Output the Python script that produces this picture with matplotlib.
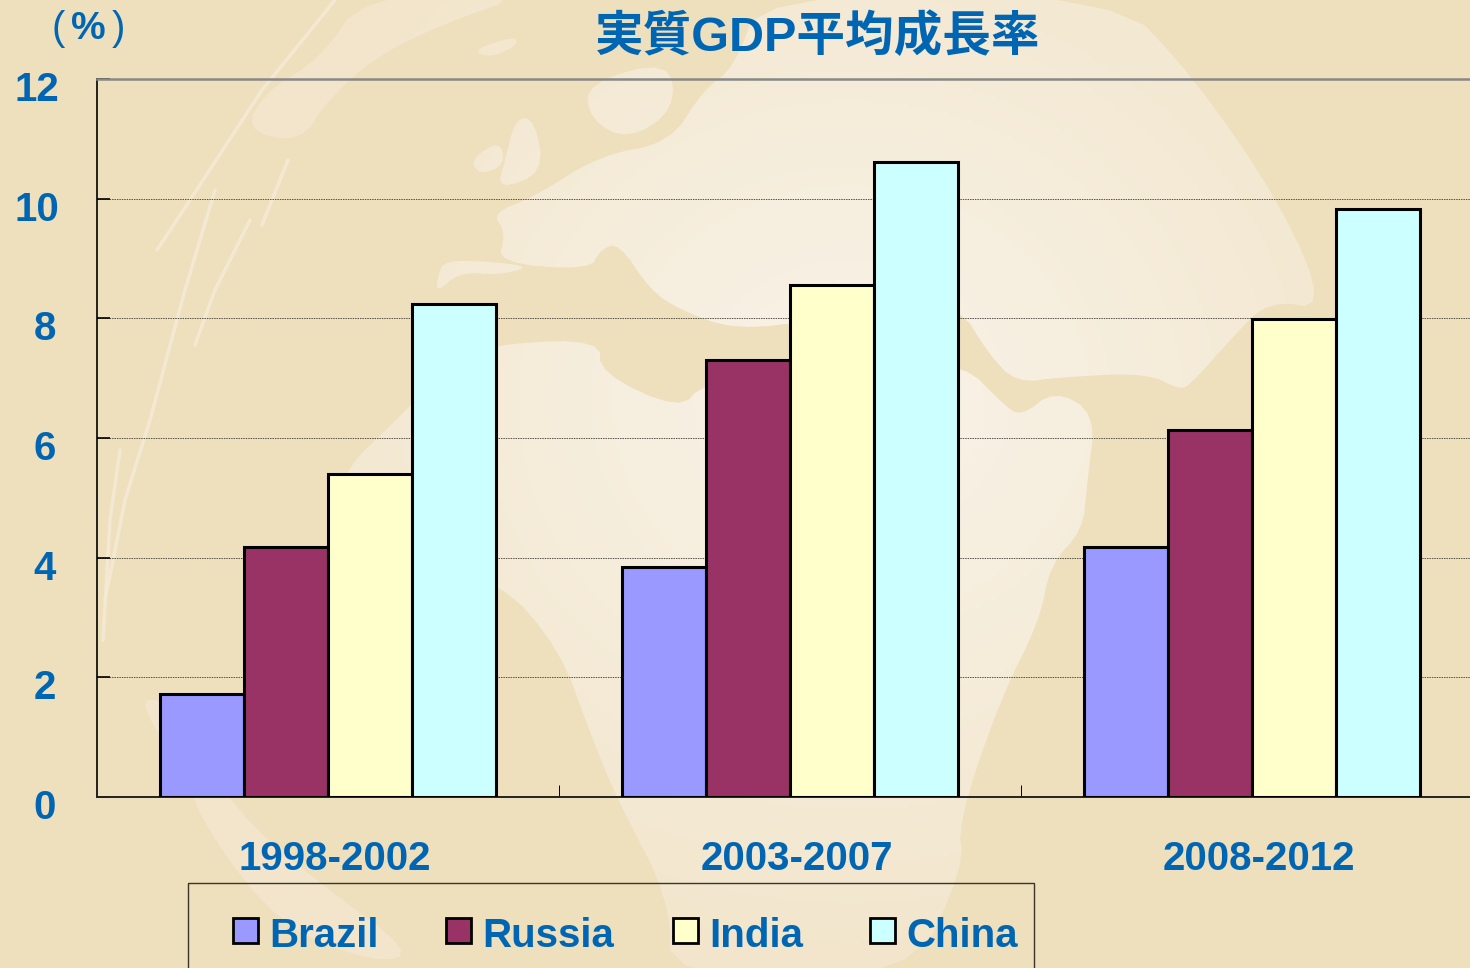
import numpy as np
import matplotlib
matplotlib.use("Agg")
import matplotlib.pyplot as plt
from matplotlib.path import Path
from matplotlib.patches import Rectangle, PathPatch
from matplotlib.transforms import ScaledTranslation

periods = ["1998-2002", "2003-2007", "2008-2012"]
series_names = ["Brazil", "Russia", "India", "China"]
brazil = [1.72, 3.84, 4.18]
russia = [4.18, 7.30, 6.13]
india = [5.40, 8.56, 7.99]
china = [8.24, 10.61, 9.83]
y_ticks = [0, 2, 4, 6, 8, 10, 12]
title = "実質GDP平均成長率"

BLUE = "#0066B3"
BG = "#EEDFBD"
colors = ["#9999FF", "#993366", "#FFFFCC", "#CCFFFF"]
W, H = 1470, 968
LATIN = ["Liberation Sans", "Noto Sans CJK JP"]

fig = plt.figure(figsize=(W / 100, H / 100), dpi=100, facecolor=BG)


def soften(poly, rounds=2):
    """Round the corners of a decorative outline."""
    pts = np.asarray(poly, float)
    for _ in range(rounds):
        nxt = np.roll(pts, -1, axis=0)
        pts = np.column_stack([0.75 * pts + 0.25 * nxt, 0.25 * pts + 0.75 * nxt]).reshape(-1, 2)
    return [tuple(p) for p in pts]


# decorative globe backdrop, in pixel coordinates
bg = fig.add_axes([0, 0, 1, 1], zorder=0)
bg.set_xlim(0, W); bg.set_ylim(H, 0); bg.axis("off")
land = [
    [(365,-6),(530,-6),(445,23),(375,57),(328,100),(300,143),(244,130),(267,90),(319,60)],
    [(760,-6),(735,67),(703,90),(670,143),(600,155),(534,197),(492,213),(506,233),(497,263),
     (590,270),(600,250),(619,243),(650,290),(680,310),(735,330),(820,320),(900,310),(960,307),
     (988,353),(1016,383),(1063,377),(1147,373),(1180,390),(1192,383),(1230,340),(1269,300),
     (1326,310),(1283,207),(1194,77),(1115,-6)],
    [(586,83),(670,60),(675,110),(628,140),(590,120)],
    [(516,117),(535,120),(544,173),(497,190),(505,160)],
    [(470,160),(500,140),(505,165),(480,175)],
    [(472,50),(515,36),(518,45),(490,58)],
    [(445,260),(497,262),(530,267),(500,275),(460,272),(436,293),(438,275)],
    [(506,343),(600,340),(600,373),(680,410),(703,383),(800,375),(900,365),(965,365),(1002,403),
     (1021,417),(1054,390),(1096,413),(1087,484),(1083,530),(1050,565),(1040,620),(1000,700),
     (958,823),(964,867),(911,980),(670,980),(670,900),(616,797),(589,730),(560,650),(500,580),
     (400,560),(330,520),(347,467),(389,427),(436,380),(470,355)],
    [(137,700),(167,700),(234,810),(315,880),(415,953),(375,963),(281,927),(208,833),(181,767)],
]
verts, codes = [], []
for raw in land:
    poly = soften(raw)
    verts += poly + [poly[0]]
    codes += [Path.MOVETO] + [Path.LINETO] * (len(poly) - 1) + [Path.CLOSEPOLY]
clip = PathPatch(Path(verts, codes), transform=bg.transData, fc="none", ec="none")
bg.add_patch(clip)
yy, xx = np.mgrid[0:H:4, 0:W:4]
dist = np.clip(np.hypot((xx - 850) / 620, (yy - 400) / 560), 0, 1)
light = np.array([0.975, 0.955, 0.915])
dark = np.array([0.950, 0.900, 0.800])
rgb = (light[None, None] * (1 - dist[..., None]) + dark[None, None] * dist[..., None])
im = bg.imshow(rgb, extent=(0, W, H, 0), aspect="auto", zorder=1)
im.set_clip_path(clip)
limb_lines = [
    [(335,0),(262,90),(190,200),(157,250)],
    [(215,190),(185,290),(150,420),(125,500),(105,600)],
    [(250,220),(215,290),(195,345)],
    [(120,450),(110,520),(103,640)],
    [(288,160),(262,225)],
]
for ln in limb_lines:
    px, py = zip(*ln)
    bg.plot(px, py, color="#F5EBD7", lw=2.5, alpha=0.8, solid_capstyle="round", zorder=2)

# chart
L, T, R, B = 97, 79, 1470, 797
ax = fig.add_axes([L / W, 1 - B / H, (R - L) / W, (B - T) / H], zorder=2)
ax.patch.set_alpha(0)
bw = 84 / 462
ax.set_xlim(-0.5, (R - L) / 462 - 0.5)
ax.set_ylim(0, 12)
x = np.arange(len(periods))
all_series = [brazil, russia, india, china]
for i, vals in enumerate(all_series):
    ax.bar(x + (i - 1.5) * bw, vals, bw, color=colors[i], edgecolor="black", linewidth=2.2, zorder=3)

ax.set_yticks(y_ticks)
ax.set_yticklabels([str(v) for v in y_ticks], family=LATIN, fontweight="bold", fontsize=29, color=BLUE)
ax.tick_params(axis="y", direction="in", length=9, width=1.2, color="black", pad=0, left=True)
ax.set_xticks(x)
ax.set_xticklabels(periods, family=LATIN, fontweight="bold", fontsize=29, color=BLUE)
ax.tick_params(axis="x", which="major", length=0, pad=31)
ax.set_xticks(x[:-1] + 0.5, minor=True)
ax.tick_params(axis="x", which="minor", direction="in", length=9, width=0.7, color="black")
ax.yaxis.grid(True, color="#555048", lw=0.7, ls=(0, (1.5, 1)), zorder=1)
ax.set_axisbelow(True)
ax.spines["right"].set_visible(False)
ax.spines["top"].set_color("#888888"); ax.spines["top"].set_linewidth(1.8)
ax.spines["left"].set_color("black"); ax.spines["left"].set_linewidth(1.2)
ax.spines["bottom"].set_color("#222222"); ax.spines["bottom"].set_linewidth(1.4)

for lab, v in zip(ax.get_yticklabels(), y_ticks):
    dx = -38 if v >= 10 else -41
    lab.set_transform(lab.get_transform() + ScaledTranslation(dx / 100, -7 / 100, fig.dpi_scale_trans))
for lab in ax.get_xticklabels():
    lab.set_transform(lab.get_transform() + ScaledTranslation(7 / 100, 0, fig.dpi_scale_trans))

# overlay text and legend, pixel coordinates
ov = fig.add_axes([0, 0, 1, 1], zorder=3)
ov.set_xlim(0, W); ov.set_ylim(H, 0); ov.axis("off")
ov.text(818, 38, title, family=["Liberation Sans", "Noto Sans CJK JP"], fontweight="bold",
        fontsize=35, color=BLUE, ha="center", va="center")
ov.text(58, 29, "(", family=LATIN, fontsize=29, color=BLUE, ha="center", va="center")
ov.text(88, 29, "%", family=LATIN, fontweight="bold", fontsize=28, color=BLUE, ha="center", va="center")
ov.text(118, 29, ")", family=LATIN, fontsize=29, color=BLUE, ha="center", va="center")

ov.add_patch(Rectangle((188, 883), 846, 120, fc="none", ec="#3A3528", lw=1.0, clip_on=True))
leg_x = [232, 445, 672, 869]
for name, c, lx in zip(series_names, colors, leg_x):
    ov.add_patch(Rectangle((lx + 1, 918), 25, 25, fc=c, ec="black", lw=2.0))
    ov.text(lx + 37, 936, name, family=LATIN, fontweight="bold", fontsize=29, color=BLUE,
            ha="left", va="center")

fig.savefig("out.png", dpi=100, facecolor=BG)
